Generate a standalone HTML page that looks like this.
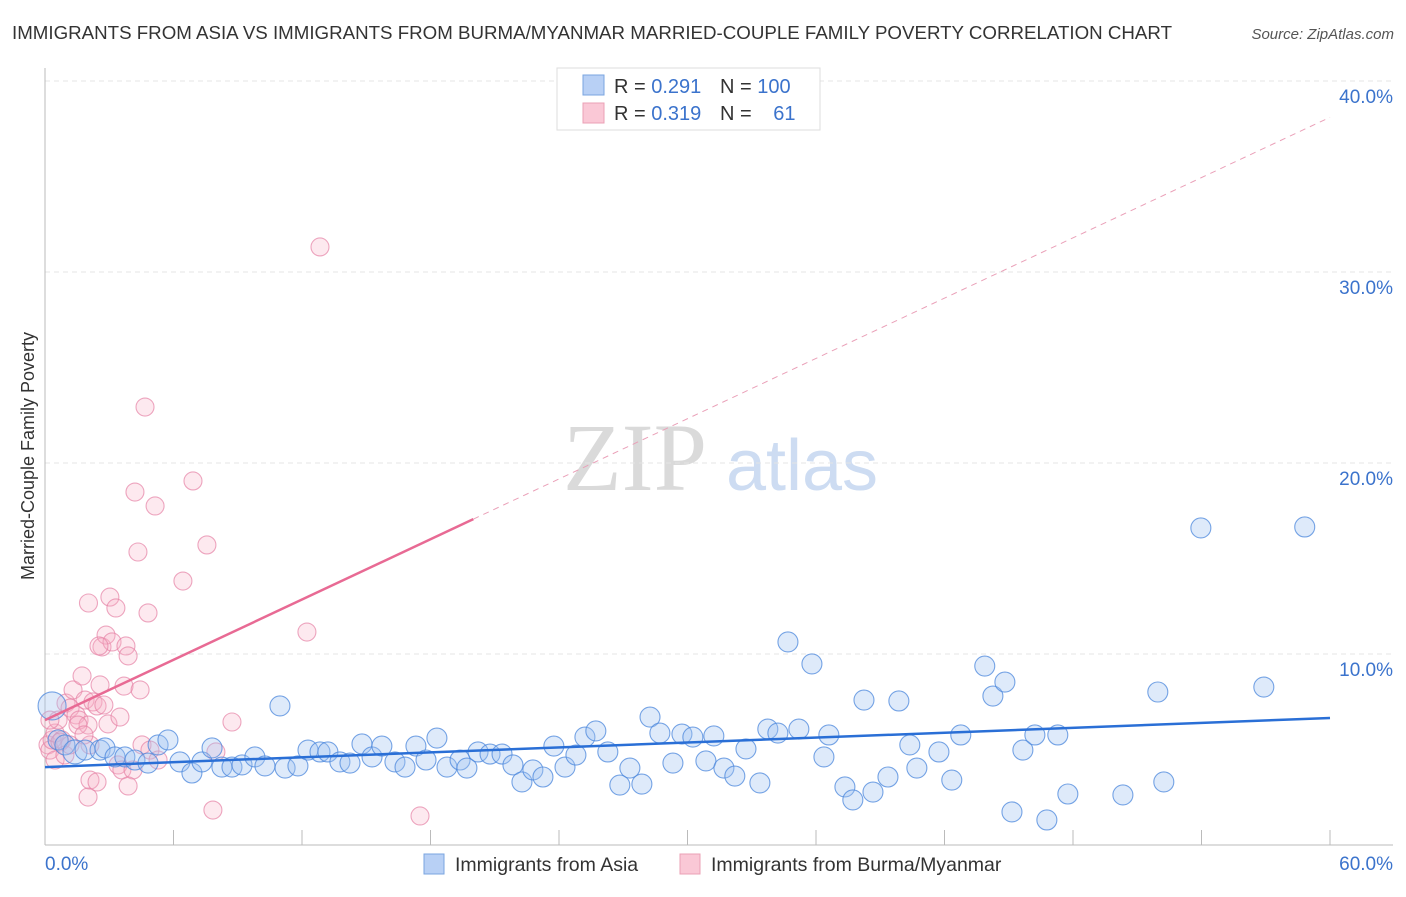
<!DOCTYPE html>
<html><head><meta charset="utf-8">
<style>
body{margin:0;background:#fff;font-family:"Liberation Sans",sans-serif;}
svg text{font-family:"Liberation Sans",sans-serif;}
</style></head>
<body>
<svg id="chart" width="1406" height="892" xmlns="http://www.w3.org/2000/svg">
<text x="12" y="39" font-size="18.5" textLength="1160" lengthAdjust="spacingAndGlyphs" fill="#333">IMMIGRANTS FROM ASIA VS IMMIGRANTS FROM BURMA/MYANMAR MARRIED-COUPLE FAMILY POVERTY CORRELATION CHART</text>
<text x="1394" y="39" font-size="15" fill="#555" font-style="italic" text-anchor="end">Source: ZipAtlas.com</text>
<text x="635" y="490" font-size="96" fill="#dadada" text-anchor="middle" style="font-family:'Liberation Serif',serif">ZIP</text>
<text x="802" y="490" font-size="72" fill="#cddcf2" text-anchor="middle">atlas</text>
<text transform="translate(34,456) rotate(-90)" font-size="18" fill="#333" text-anchor="middle">Married-Couple Family Poverty</text>
<g id="grid"></g><g id="marks"></g><g id="lines"></g>
<g>
<rect x="557" y="68" width="263" height="62" fill="#fff" stroke="#ddd"/>
<rect x="583" y="75" width="21" height="20" fill="#b8d0f5" stroke="#7aa5e0"/>
<rect x="583" y="103" width="21" height="20" fill="#fac8d6" stroke="#eba0b5"/>
<text x="614" y="93" font-size="20" fill="#333">R = <tspan fill="#3b73cc">0.291</tspan></text>
<text x="720" y="93" font-size="20" fill="#333">N = <tspan fill="#3b73cc">100</tspan></text>
<text x="614" y="120" font-size="20" fill="#333">R = <tspan fill="#3b73cc">0.319</tspan></text>
<text x="720" y="120" font-size="20" fill="#333">N = <tspan fill="#3b73cc" dx="16">61</tspan></text>
</g>
<g>
<rect x="424" y="854" width="20" height="20" fill="#b8d0f5" stroke="#7aa5e0"/>
<text x="455" y="871" font-size="19.5" fill="#333">Immigrants from Asia</text>
<rect x="680" y="854" width="20" height="20" fill="#fac8d6" stroke="#eba0b5"/>
<text x="711" y="871" font-size="19.5" fill="#333">Immigrants from Burma/Myanmar</text>
</g>
</svg>
<script>
const asiaX=[0.33,0.61,0.93,1.40,1.87,2.57,2.80,3.27,3.73,4.20,4.81,5.28,5.74,6.30,6.86,7.33,7.80,8.26,8.73,9.20,9.80,10.27,10.97,11.21,11.81,12.28,12.84,13.21,13.77,14.24,14.80,15.27,15.73,16.34,16.81,17.32,17.79,18.30,18.77,19.38,19.70,20.22,20.78,21.34,21.85,22.27,22.78,23.25,23.76,24.28,24.79,25.21,25.72,26.28,26.84,27.31,27.87,28.25,28.71,29.32,29.74,30.25,30.86,31.23,31.70,32.21,32.73,33.38,33.75,34.22,34.69,35.20,35.81,36.37,36.60,37.35,37.72,38.24,38.66,39.36,39.87,40.38,40.71,41.74,42.34,42.76,43.88,44.26,44.82,45.15,45.66,46.22,46.78,47.29,47.76,50.33,51.96,52.24,53.97,56.91,58.82];
const asiaY=[7.28,5.50,5.24,4.87,4.97,4.97,5.08,4.61,4.61,4.45,4.29,5.24,5.50,4.35,3.77,4.35,5.08,4.08,4.08,4.19,4.61,4.14,7.28,4.03,4.14,4.97,4.87,4.87,4.35,4.29,5.29,4.61,5.18,4.35,4.08,5.18,4.45,5.60,4.08,4.45,4.03,4.87,4.76,4.76,4.19,3.30,3.93,3.56,5.18,4.08,4.71,5.65,5.97,4.87,3.14,4.03,3.19,6.70,5.86,4.29,5.81,5.65,4.40,5.71,4.03,3.61,5.03,3.25,6.07,5.86,10.63,6.07,9.48,4.61,5.76,3.04,2.36,7.59,2.77,3.56,7.54,5.24,4.03,4.87,3.40,5.76,9.37,7.80,8.53,1.73,4.97,5.76,1.31,5.76,2.67,2.62,8.01,3.30,16.60,8.27,16.65];
const burmaX=[0.14,0.23,0.33,0.47,0.61,0.79,0.98,1.17,1.31,1.45,1.59,1.73,1.87,2.01,2.10,2.24,2.43,2.57,2.66,2.75,2.85,2.94,3.03,3.13,3.31,3.41,3.50,3.59,3.69,3.78,3.88,4.11,4.20,4.34,4.44,4.53,4.67,4.81,4.90,5.14,5.28,6.44,6.91,7.56,7.84,7.98,8.73,12.23,12.84,17.51,2.10,2.01,2.43,3.88,0.70,0.47,0.93,1.17,1.54,0.23,1.82,2.03,2.52];
const burmaY=[5.24,4.97,5.50,5.86,6.54,5.50,7.43,7.17,8.12,6.81,6.54,8.85,7.59,6.28,5.24,7.49,7.28,8.38,10.37,7.33,10.99,6.34,12.98,10.63,12.41,4.19,6.70,3.93,8.32,10.42,9.90,3.93,18.48,15.34,8.12,5.24,22.93,12.15,4.97,17.75,4.45,13.82,19.06,15.71,1.83,4.87,6.44,11.15,31.31,1.52,3.40,2.51,3.30,3.09,5.39,4.45,4.71,5.24,6.28,6.54,5.76,12.67,10.42];
const asiaTrend=[4.08,6.65];
const burmaTrend=[6.54,38.1];
const yTicks=[10,20,30,40];
const xTicks=[0,6,12,18,24,30,36,42,48,54,60];
const NS="http://www.w3.org/2000/svg";
const sx=v=>45+v*(1285/60), sy=v=>845-v*19.1;
function mk(tag,attrs,parent){const e=document.createElementNS(NS,tag);for(const k in attrs)e.setAttribute(k,attrs[k]);parent.appendChild(e);return e;}
const grid=document.getElementById('grid'),marks=document.getElementById('marks'),lines=document.getElementById('lines');
yTicks.forEach(t=>{
 const l=mk('line',{x1:45,x2:1393,y1:sy(t),y2:sy(t),stroke:'#e4e4e4','stroke-dasharray':'5,4'},grid);
 
 
 const tx=mk('text',{x:1393,y:sy(t)+22,'font-size':19,fill:'#3b73cc','text-anchor':'end'},grid);
 tx.textContent=t.toFixed(1)+'%';
 
 
});
const ax=mk('line',{x1:45,x2:45,y1:68,y2:845,stroke:'#bbb'},grid);


const bx=mk('line',{x1:45,x2:1393,y1:845,y2:845,stroke:'#bbb'},grid);


xTicks.forEach(t=>{
 const l=mk('line',{x1:sx(t),x2:sx(t),y1:830,y2:845,stroke:'#bbb'},grid);
 
 
});
const x0=mk('text',{x:45,y:870,'font-size':19,fill:'#3b73cc'},grid);x0.textContent='0.0%';


const x1=mk('text',{x:1393,y:870,'font-size':19,fill:'#3b73cc','text-anchor':'end'},grid);x1.textContent='60.0%';


burmaX.forEach((x,i)=>{
 const c=mk('circle',{cx:sx(x),cy:sy(burmaY[i]),r:9,fill:'rgba(248,175,198,0.28)',stroke:'rgba(230,130,165,0.7)','stroke-width':1.1},marks);
 
 
});
asiaX.forEach((x,i)=>{
 const c=mk('circle',{cx:sx(x),cy:sy(asiaY[i]),r:(i===0?14:(i===3?12:10)),fill:'rgba(160,195,240,0.35)',stroke:'rgba(75,135,220,0.75)','stroke-width':1.1},marks);
 
 
});
const la=mk('line',{x1:sx(0),y1:sy(asiaTrend[0]),x2:sx(60),y2:sy(asiaTrend[1]),stroke:'#2a6fd6','stroke-width':2.5},lines);


const xs=20,ys=burmaTrend[0]+(burmaTrend[1]-burmaTrend[0])*xs/60;
const lb=mk('line',{x1:sx(0),y1:sy(burmaTrend[0]),x2:sx(xs),y2:sy(ys),stroke:'#e86a94','stroke-width':2.5},lines);


const lbd=mk('line',{x1:sx(xs),y1:sy(ys),x2:sx(60),y2:sy(burmaTrend[1]),stroke:'#eaa0b8','stroke-width':1,'stroke-dasharray':'6,5'},lines);


</script>
</body></html>
